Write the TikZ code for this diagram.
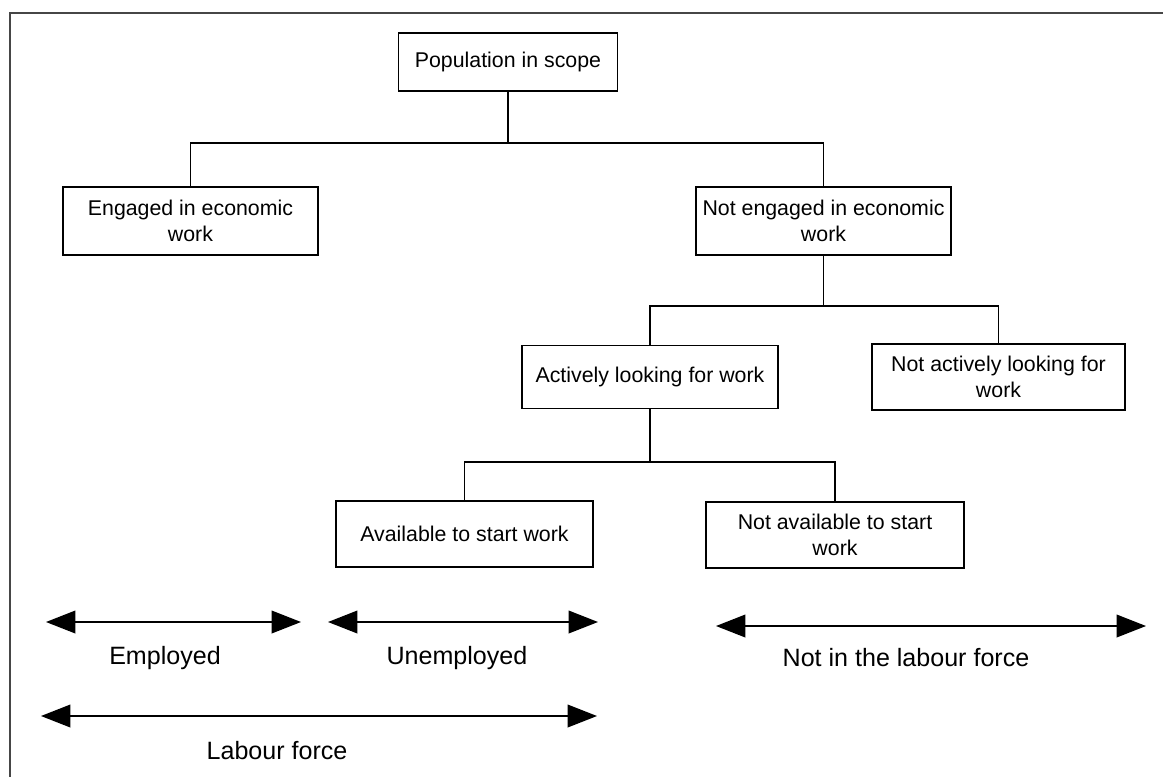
\documentclass[tikz,border=0pt]{standalone}
\usepackage{fontspec}
\setmainfont{Liberation Sans}
\usetikzlibrary{arrows.meta}
\definecolor{framegray}{RGB}{70,70,70}
\tikzset{
  box/.style={draw=black, line width=1.25pt, fill=white, inner sep=0pt, align=center,
    font=\fontsize{16}{20}\selectfont},
  conn/.style={draw=black, line width=1.25pt},
  span/.style={draw=black, line width=1.1pt,
    {Triangle[length=22pt,width=17pt]}-{Triangle[length=22pt,width=17pt]}},
  lbl/.style={inner sep=0pt, font=\fontsize{18.8}{22}\selectfont}
}
\begin{document}
\begin{tikzpicture}[x=0.75pt,y=-0.75pt]
\useasboundingbox (0,0) rectangle (1163,776);
\fill[white] (0,0) rectangle (1163,776);
\draw[framegray, line width=1.6pt] (10,13) rectangle (1185,800);

\node[box, minimum width=219*0.75pt, minimum height=58*0.75pt] (pop) at (508,62) {Population in scope};
\node[box, minimum width=255*0.75pt, minimum height=68*0.75pt] (eng) at (190.5,221) {Engaged in economic\\work};
\node[box, minimum width=255*0.75pt, minimum height=68*0.75pt] (ne) at (823.5,221) {Not engaged in economic\\work};
\node[box, minimum width=256*0.75pt, minimum height=63*0.75pt] (act) at (650,377) {Actively looking for work};
\node[box, minimum width=253*0.75pt, minimum height=66*0.75pt] (nact) at (998.5,377) {Not actively looking for\\work};
\node[box, minimum width=257*0.75pt, minimum height=66*0.75pt] (avail) at (464.5,534) {Available to start work};
\node[box, minimum width=258*0.75pt, minimum height=66*0.75pt] (navail) at (835,535) {Not available to start\\work};

\coordinate (b1) at (0,143);
\coordinate (b2) at (0,306);
\coordinate (b3) at (0,462);

\draw[conn] (pop.south) -- (pop.south |- b1);
\draw[conn] (eng.north) |- (ne.north |- b1) -- (ne.north);
\draw[conn] (ne.south) -- (ne.south |- b2);
\draw[conn] (act.north) |- (nact.north |- b2) -- (nact.north);
\draw[conn] (act.south) -- (act.south |- b3);
\draw[conn] (avail.north) |- (navail.north |- b3) -- (navail.north);

\coordinate (e1) at (46,622);
\coordinate (e2) at (301,622);
\coordinate (u1) at (328,622);
\coordinate (u2) at (598,622);
\coordinate (n1) at (716,626);
\coordinate (n2) at (1146,626);
\coordinate (l1) at (41,716);
\coordinate (l2) at (597,716);

\draw[span] (e1) -- (e2);
\draw[span] (u1) -- (u2);
\draw[span] (n1) -- (n2);
\draw[span] (l1) -- (l2);

\node[lbl] (lemp) at (165,658) {Employed};
\node[lbl] (lunemp) at (457,658) {Unemployed};
\node[lbl] (lnot) at (906,658) {Not in the labour force};
\node[lbl] (llab) at (277,751) {Labour force};
\end{tikzpicture}
\end{document}
